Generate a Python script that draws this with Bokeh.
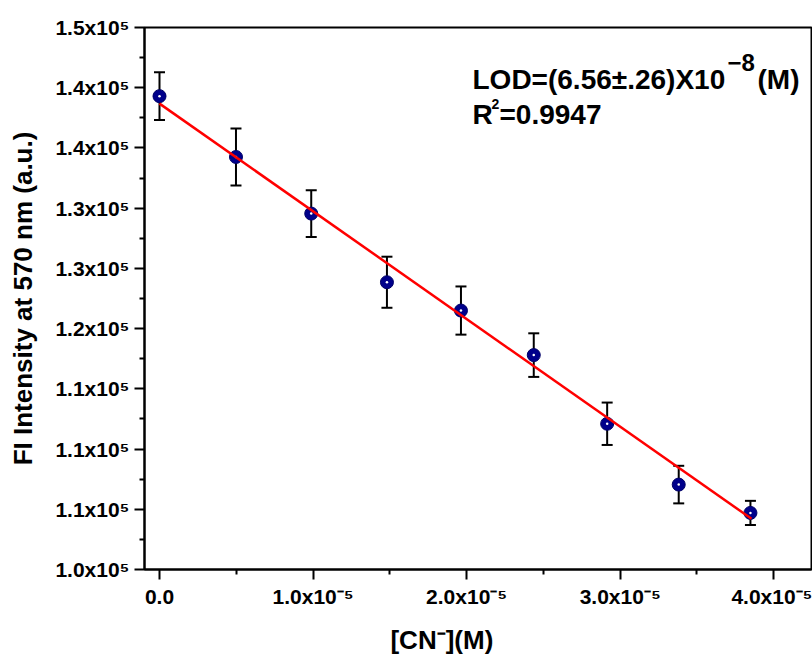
from bokeh.plotting import figure
from bokeh.models import (ColumnDataSource, Range1d, FixedTicker, Whisker, TeeHead, Label)
from bokeh.embed import file_html
from bokeh.resources import INLINE

# ---- data ----
conc = [0.0, 0.498e-5, 0.988e-5, 1.481e-5, 1.963e-5, 2.437e-5, 2.915e-5, 3.381e-5, 3.848e-5]
intensity = [139300, 134250, 129550, 123850, 121500, 117800, 112100, 107050, 104700]
error = [1980, 2370, 1940, 2120, 2000, 1810, 1760, 1560, 1000]

fit_x = [0.0, 3.855e-5]
fit_y = [138680, 104210]

x_ticks = [0.0, 1e-5, 2e-5, 3e-5, 4e-5]
x_tick_labels = ["0.0", "1.0x10\u207b\u2075", "2.0x10\u207b\u2075", "3.0x10\u207b\u2075", "4.0x10\u207b\u2075"]
x_minor = [0.5e-5, 1.5e-5, 2.5e-5, 3.5e-5]

y_ticks = [100000, 105000, 110000, 115000, 120000, 125000, 130000, 135000, 140000, 145000]
y_tick_labels = ["1.0x10\u2075", "1.1x10\u2075", "1.1x10\u2075", "1.1x10\u2075", "1.2x10\u2075",
                 "1.3x10\u2075", "1.3x10\u2075", "1.4x10\u2075", "1.4x10\u2075", "1.5x10\u2075"]
y_minor = [102500, 107500, 112500, 117500, 122500, 127500, 132500, 137500, 142500]

x_title = "[CN\u207b](M)"
y_title = "FI Intensity at 570 nm (a.u.)"

X0, X1 = -0.977e-6, 4.2456e-5
Y0, Y1 = 100000, 145000

FONT = "Liberation Sans"

p = figure(width=812, height=662, output_backend="svg", toolbar_location=None,
           x_range=Range1d(X0, X1), y_range=Range1d(Y0, Y1),
           min_border_left=144, min_border_right=1, min_border_top=27, min_border_bottom=93)
p.background_fill_color = "white"
p.border_fill_color = "white"
p.grid.visible = False
p.outline_line_color = "black"
p.outline_line_width = 2

for ax in (p.xaxis[0], p.yaxis[0]):
    ax.axis_line_width = 2
    ax.major_tick_line_width = 2
    ax.minor_tick_line_width = 2
    ax.major_tick_in = 0
    ax.major_tick_out = 10
    ax.minor_tick_in = 0
    ax.minor_tick_out = 5
    ax.major_label_text_font = FONT
    ax.major_label_text_font_style = "bold"
    ax.major_label_text_font_size = "21px"
    ax.major_label_text_color = "black"
    ax.major_label_standoff = 5
    ax.axis_label_text_font = FONT
    ax.axis_label_text_font_style = "bold"
    ax.axis_label_text_font_size = "26px"
    ax.axis_label_text_color = "black"

p.xaxis[0].ticker = FixedTicker(ticks=x_ticks, minor_ticks=x_minor)
p.xaxis[0].major_label_overrides = {t: l for t, l in zip(x_ticks, x_tick_labels)}
p.yaxis[0].ticker = FixedTicker(ticks=y_ticks, minor_ticks=y_minor)
p.yaxis[0].major_label_overrides = {t: l for t, l in zip(y_ticks, y_tick_labels)}

p.yaxis[0].axis_label = y_title
p.yaxis[0].axis_label_standoff = 14
# trailing no-break spaces shift the centred title left, as in the reference
p.xaxis[0].axis_label = x_title + "\u00a0" * 10
p.xaxis[0].axis_label_standoff = 14

src = ColumnDataSource(dict(x=conc, y=intensity,
                            upper=[v + e for v, e in zip(intensity, error)],
                            lower=[v - e for v, e in zip(intensity, error)]))

w = Whisker(base="x", upper="upper", lower="lower", source=src,
            line_color="black", line_width=2,
            upper_head=TeeHead(size=11, line_width=2, line_color="black"),
            lower_head=TeeHead(size=11, line_width=2, line_color="black"))
p.add_layout(w)

p.scatter("x", "y", source=src, size=13, fill_color="#00008B", line_color="#000066", line_width=1)
p.scatter("x", "y", source=src, size=2.5, fill_color="white", line_color=None)

p.line(fit_x, fit_y, line_color="#FF0000", line_width=2.5)


def px_x(ix):
    return X0 + (ix - 144) / 667 * (X1 - X0)


def px_y(iy):
    return Y1 - (iy - 27) / 542 * (Y1 - Y0)


def add_text(text, ix, iy, size, style="bold", font=FONT):
    p.add_layout(Label(x=px_x(ix), y=px_y(iy), text=text, text_font=font,
                       text_font_style=style, text_font_size=size, text_color="black",
                       text_baseline="alphabetic", text_align="left"))


add_text("LOD=(6.56\u00b1.26)X10", 472, 79.3, "28px")
add_text("\u22128", 727, 62, "24px")
add_text("(M)", 757, 79.3, "28px")
add_text("R", 472, 114, "28px")
add_text("2", 491, 103, "14px")
add_text("=0.9947", 499, 114, "28px")

open("out.html", "w").write(file_html(p, INLINE))
